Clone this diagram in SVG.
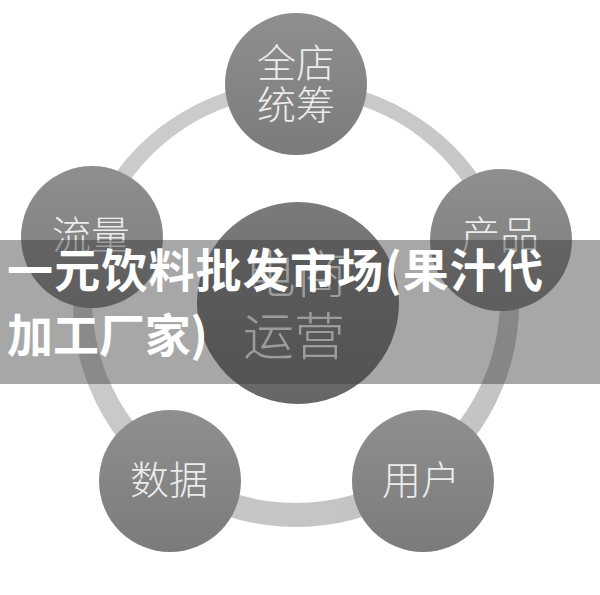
<svg xmlns="http://www.w3.org/2000/svg" width="600" height="595" viewBox="0 0 600 595">
  <defs>
    <linearGradient id="nodeGrad" x1="0" y1="0" x2="0" y2="1">
      <stop offset="0" stop-color="#8f8f8f"/>
      <stop offset="1" stop-color="#7b7b7b"/>
    </linearGradient>
    <linearGradient id="hubGrad" x1="0" y1="0" x2="0" y2="1">
      <stop offset="0" stop-color="#7a7a7a"/>
      <stop offset="1" stop-color="#666666"/>
    </linearGradient>
    <linearGradient id="ringGrad" x1="0" y1="0" x2="1" y2="1">
      <stop offset="0" stop-color="#cdcdcd"/>
      <stop offset="1" stop-color="#c2c2c2"/>
    </linearGradient>
  </defs>
  <style>
    .node { fill: url(#nodeGrad); }
    .hub { fill: url(#hubGrad); }
    .lbl { font-family: "Noto Sans CJK SC", "Noto Sans", sans-serif; font-weight: 300; fill: #ececec; text-anchor: middle; }
    .title { font-family: "Noto Sans CJK SC", "Noto Sans", sans-serif; font-weight: 700; fill: #ffffff; font-size: 46px; }
  </style>
  <rect width="600" height="595" fill="#ffffff"/>

  <g id="connectors">
    <path fill="url(#ringGrad)" fill-rule="evenodd"
      d="M296,81 A223,223 0 1,1 295.99,81 Z M296,95 A204,204 0 1,0 296.01,95 Z"/>
  </g>

  <g id="node-top">
    <circle class="node" cx="296" cy="84" r="71"/>
    <text class="lbl" x="296" y="77" font-size="39">全店</text>
    <text class="lbl" x="296" y="119" font-size="39">统筹</text>
  </g>
  <g id="node-left">
    <circle class="node" cx="92" cy="237" r="71"/>
    <text class="lbl" x="91" y="249" font-size="39">流量</text>
  </g>
  <g id="node-right">
    <circle class="node" cx="501" cy="240" r="71"/>
    <text class="lbl" x="500" y="249" font-size="39">产品</text>
  </g>
  <g id="node-bottom-left">
    <circle class="node" cx="170" cy="481" r="71"/>
    <text class="lbl" x="169" y="494" font-size="39">数据</text>
  </g>
  <g id="node-bottom-right">
    <circle class="node" cx="423" cy="481" r="71"/>
    <text class="lbl" x="421" y="494" font-size="39">用户</text>
  </g>
  <g id="node-center">
    <circle class="hub" cx="298" cy="303" r="101"/>
    <text class="lbl" x="296" y="293" font-size="51">电商</text>
    <text class="lbl" x="294" y="355" font-size="51">运营</text>
  </g>

  <g id="banner">
    <rect x="0" y="240" width="600" height="144" fill="rgb(60,60,60)" fill-opacity="0.45"/>
    <text class="title" x="7" y="287" textLength="536" lengthAdjust="spacing">一元饮料批发市场(果汁代</text>
    <text class="title" x="7" y="352" textLength="201" lengthAdjust="spacing">加工厂家)</text>
  </g>
</svg>
